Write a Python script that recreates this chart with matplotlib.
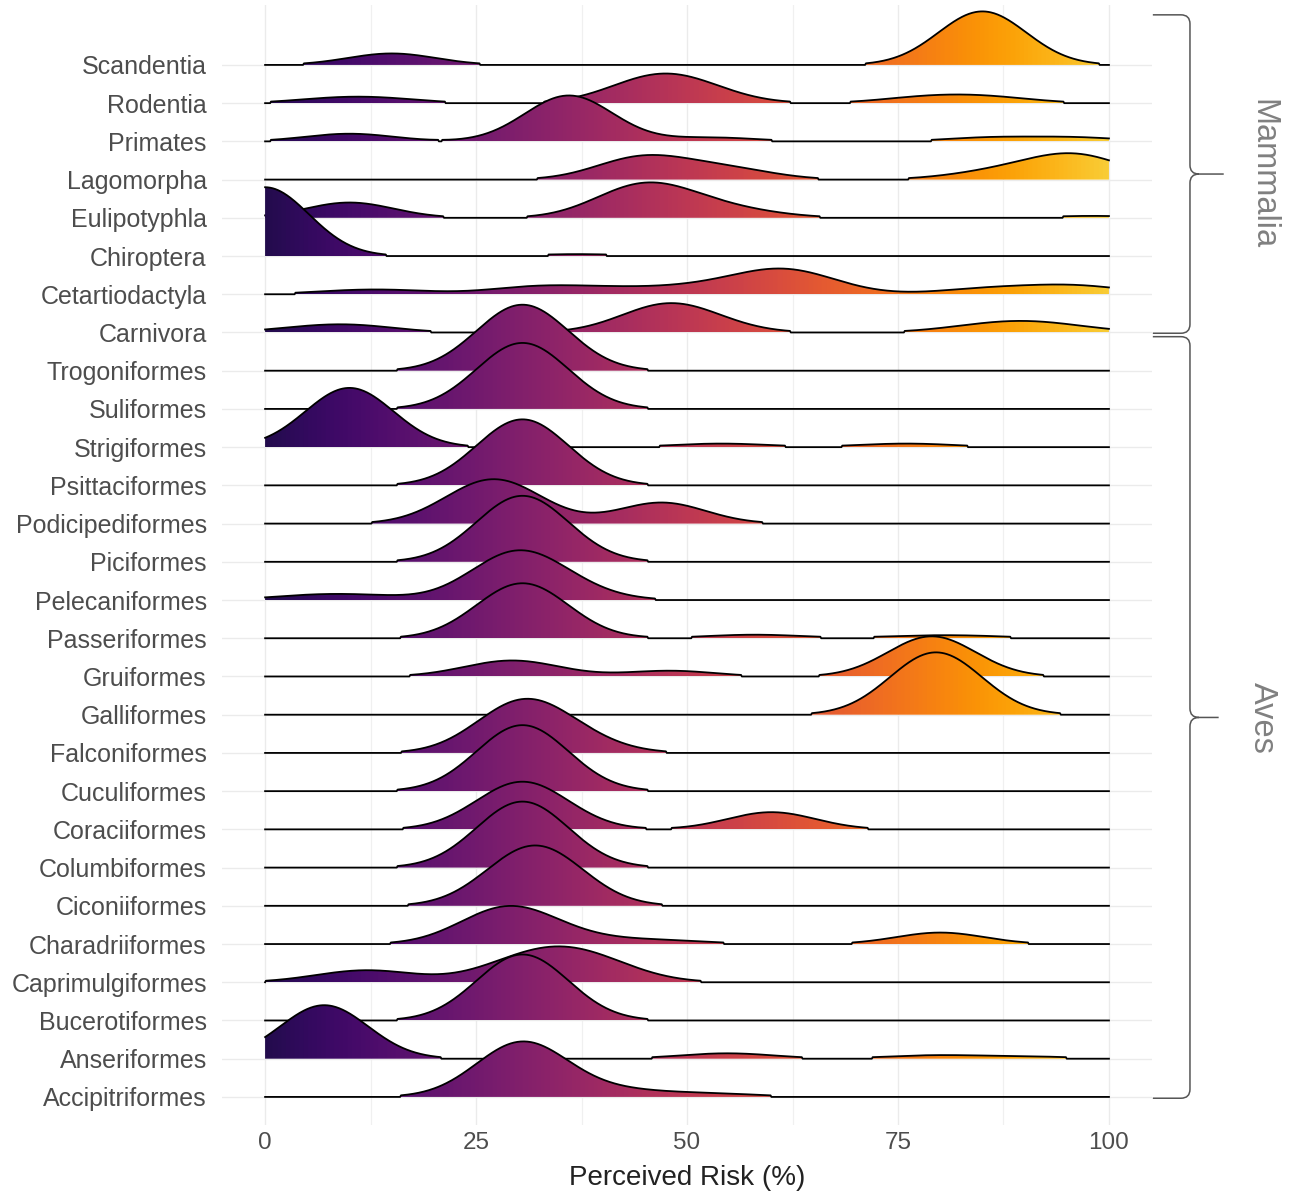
import numpy as np
import matplotlib
matplotlib.use("Agg")
import matplotlib.pyplot as plt
from matplotlib.patches import Polygon, PathPatch
from matplotlib.path import Path

plt.rcParams['font.family'] = ['Liberation Sans', 'DejaVu Sans']

# orders, bottom row first
orders = ["Accipitriformes", "Anseriformes", "Bucerotiformes", "Caprimulgiformes",
          "Charadriiformes", "Ciconiiformes", "Columbiformes", "Coraciiformes",
          "Cuculiformes", "Falconiformes", "Galliformes", "Gruiformes",
          "Passeriformes", "Pelecaniformes", "Piciformes", "Podicipediformes",
          "Psittaciformes", "Strigiformes", "Suliformes", "Trogoniformes",
          "Carnivora", "Cetartiodactyla", "Chiroptera", "Eulipotyphla",
          "Lagomorpha", "Primates", "Rodentia", "Scandentia"]

# perceived risk scores (%) and how many times each was given, per order
risk_values = [
    [29, 32, 42, 50, 55],
    [7, 52, 56, 77, 82, 91],
    [29, 32],
    [9, 14, 27, 30, 34, 38, 42],
    [27, 31, 38, 45, 49, 80],
    [30, 34],
    [29, 32],
    [29, 32, 60],
    [29, 32],
    [29, 32, 37],
    [78, 81],
    [27, 31, 48, 79],
    [29, 32, 56, 60, 77, 84],
    [5, 12, 28, 31, 36],
    [29, 32],
    [25, 29, 47],
    [29, 32],
    [10, 52, 56, 74, 78],
    [29, 32],
    [29, 32],
    [5, 11, 45, 48, 52, 82, 87, 92, 97],
    [9, 13, 17, 31, 37, 43, 51, 58, 62, 66, 84, 90, 96, 100],
    [0, 37],
    [10, 43, 47, 52, 58, 98],
    [44, 50, 56, 84, 90, 96, 100],
    [10, 36, 53, 86, 96],
    [8, 14, 44, 48, 52, 77, 82, 87],
    [15, 85],
]
risk_counts = [
    [15, 15, 3, 1, 1],
    [28, 1, 2, 1, 1, 1],
    [18, 18],
    [3, 4, 2, 5, 8, 7, 3],
    [11, 10, 2, 1, 1, 6],
    [17, 17],
    [18, 18],
    [13, 13, 9],
    [18, 18],
    [14, 13, 5],
    [17, 17],
    [4, 5, 3, 21],
    [15, 15, 1, 1, 1, 1],
    [2, 2, 11, 14, 4],
    [18, 18],
    [12, 13, 11],
    [18, 18],
    [31, 1, 1, 1, 1],
    [18, 18],
    [18, 18],
    [2, 3, 4, 9, 4, 1, 3, 3, 1],
    [1, 1, 1, 3, 2, 2, 3, 5, 7, 3, 2, 2, 3, 1],
    [36, 1],
    [8, 10, 8, 4, 2, 1],
    [10, 4, 4, 2, 4, 10, 2],
    [4, 24, 2, 2, 2],
    [2, 2, 6, 8, 4, 2, 2, 2],
    [6, 28],
]

clade_names = ["Aves", "Mammalia"]
clade_spans = [(0.966, 20.89), (20.98, 29.31)]   # in row units

bandwidth = 5.2
count_height = 0.05
min_height = 0.04

x = np.linspace(0, 100, 1001)

fig = plt.figure(figsize=(12.97, 11.97), dpi=100)
ax = fig.add_axes([0.1712, 0.0602, 0.7170, 0.9357])

grad = plt.cm.inferno(0.13 + 0.75 * x / 100)[np.newaxis, :, :]

n = len(orders)
for i in range(n - 1, -1, -1):
    base = i + 1
    vals = np.array(risk_values[i], float)
    cnts = np.array(risk_counts[i], float)
    k = np.exp(-0.5 * ((x[None, :] - vals[:, None]) / bandwidth) ** 2)
    h = (cnts[:, None] * k).sum(axis=0) * count_height
    h[h < min_height] = 0
    top = base + h
    z = 10 + 2 * (n - i)
    verts = np.column_stack([np.r_[x, x[::-1]], np.r_[top, np.full_like(x, base)]])
    poly = Polygon(verts, closed=True, transform=ax.transData)
    im = ax.imshow(grad, extent=(0, 100, base, base + h.max() + 0.02),
                   aspect='auto', interpolation='bilinear', zorder=z)
    im.set_clip_path(poly)
    ax.plot(x, top, color='black', lw=1.3, zorder=z + 1)

ax.set_xlim(-5.1, 105.1)
ax.set_ylim(0.267, 29.57)
ax.set_aspect('auto')

ax.set_xticks([0, 25, 50, 75, 100])
ax.set_xticks([12.5, 37.5, 62.5, 87.5], minor=True)
ax.set_yticks(np.arange(1, n + 1))
ax.set_yticklabels(orders)
ax.grid(which='major', color='#ebebeb', lw=1.0)
ax.grid(which='minor', axis='x', color='#f0f0f0', lw=0.9)
ax.set_axisbelow(True)
for s in ax.spines.values():
    s.set_visible(False)
ax.tick_params(which='both', length=0, labelsize=17.5, labelcolor='#4d4d4d')
ax.tick_params(axis='y', pad=11, labelsize=18)
ax.tick_params(axis='x', pad=5)
ax.set_xlabel("Perceived Risk (%)", fontsize=20, color='#222222', labelpad=8)

# curly braces for the two classes
sx = 930 / 110.2
sy = 38.22
rx, ry = 9 / sx, 9 / sy
xl, xs = 105.2, 109.6
for name, (lo, hi) in zip(clade_names, clade_spans):
    m = (lo + hi) / 2
    xt = 113.6 if name == "Mammalia" else 113.0
    verts = [(xl, hi), (xs - rx, hi), (xs, hi), (xs, hi - ry), (xs, m + ry),
             (xs, m), (xs + rx, m), (xt, m),
             (xs + rx, m), (xs, m), (xs, m - ry), (xs, lo + ry),
             (xs, lo), (xs - rx, lo), (xl, lo)]
    codes = [Path.MOVETO, Path.LINETO, Path.CURVE3, Path.CURVE3, Path.LINETO,
             Path.CURVE3, Path.CURVE3, Path.LINETO,
             Path.MOVETO, Path.CURVE3, Path.CURVE3, Path.LINETO,
             Path.CURVE3, Path.CURVE3, Path.LINETO]
    ax.add_patch(PathPatch(Path(verts, codes), fc='none', ec='#555555', lw=1.1,
                           clip_on=False))
    ax.text(118.2, m, name, rotation=270, ha='center', va='center',
            fontsize=23.5, color='#808080', clip_on=False)

fig.savefig("out.png", dpi=100)
